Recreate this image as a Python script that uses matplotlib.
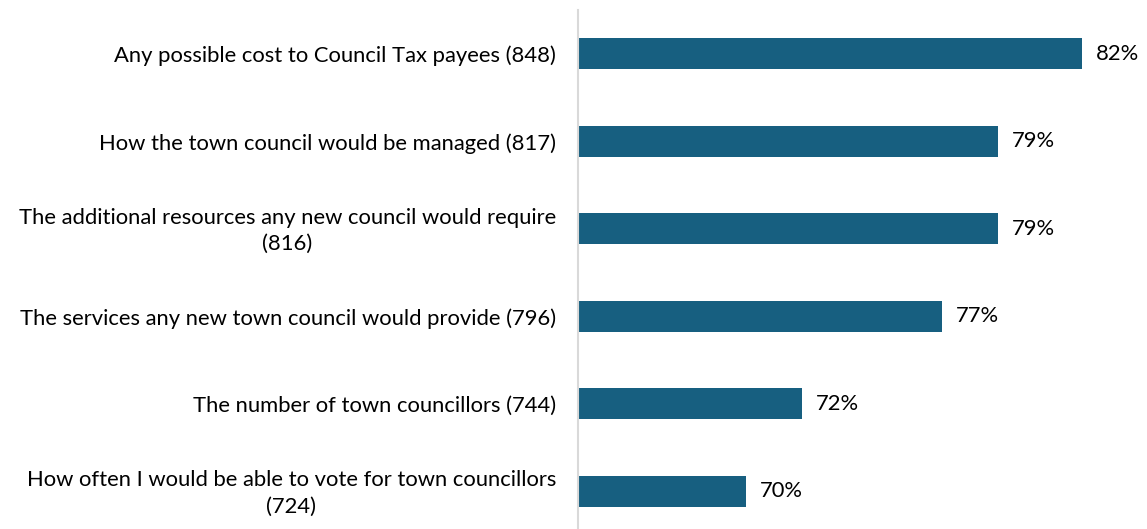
import matplotlib
matplotlib.use("Agg")
import matplotlib.pyplot as plt

categories = [
    "Any possible cost to Council Tax payees (848)",
    "How the town council would be managed (817)",
    "The additional resources any new council would require\n(816)",
    "The services any new town council would provide (796)",
    "The number of town councillors (744)",
    "How often I would be able to vote for town councillors\n(724)",
]
values = [82, 79, 79, 77, 72, 70]
value_labels = ["82%", "79%", "79%", "77%", "72%", "70%"]

plt.rcParams['font.family'] = ['Lato', 'DejaVu Sans']
FS = 15.8

fig = plt.figure(figsize=(11.47, 5.29), dpi=100)
W, H = 1147, 529
left, right = 578, 1140
top, bottom = 10, 535
ax = fig.add_axes([left / W, (H - bottom) / H, (right - left) / W, (bottom - top) / H])

xmin = 64
xmax = xmin + (right - left) / 28.0
y = list(range(len(categories)))
ax.barh(y, [v - xmin for v in values], left=xmin, height=0.355, color="#175F80")
ax.set_xlim(xmin, xmax)
ax.set_ylim(len(categories) - 0.5, -0.5)

for yi, v, lab in zip(y, values, value_labels):
    ax.annotate(lab, (v, yi), xytext=(14, 0), textcoords="offset pixels",
                va="center", ha="left", fontsize=FS, color="#000000")

ax.set_yticks(y)
ax.set_yticklabels([])
ax.tick_params(axis="y", length=0)
for yi, cat in zip(y, categories):
    ax.annotate(cat, (0, yi), xycoords=("axes fraction", "data"),
                xytext=(-22, -2), textcoords="offset pixels",
                ha="right", va="center", multialignment="center",
                fontsize=FS, linespacing=1.4, color="#000000")
ax.set_xticks([])
for s in ["top", "right", "bottom"]:
    ax.spines[s].set_visible(False)
ax.spines["left"].set_color("#D9D9D9")
ax.spines["left"].set_linewidth(1.5)

fig.savefig("out.png", dpi=100)
